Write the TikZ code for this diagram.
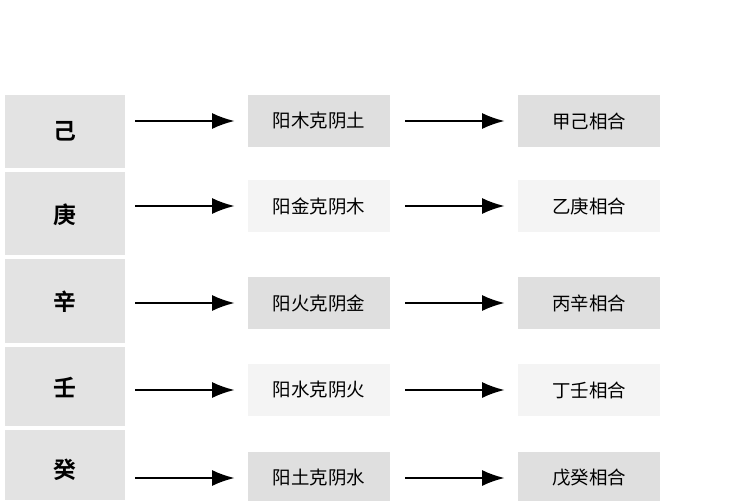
\documentclass[tikz,border=0pt]{standalone}
\usepackage{fontspec}
\newfontfamily\cjk{Noto Sans CJK SC}
\newfontfamily\cjkbold{Noto Sans CJK SC Bold}
\usetikzlibrary{arrows.meta}
\begin{document}
\begin{tikzpicture}[x=0.02cm,y=-0.02cm,
  stem/.style={font=\cjkbold\fontsize{13}{13}\selectfont},
  darkbox/.style={fill=gray!25,font=\cjk\fontsize{10.5}{11}\selectfont},
  litebox/.style={fill=gray!9,font=\cjk\fontsize{10.5}{11}\selectfont},
  link/.style={-{Latex[length=4.5mm,width=3.2mm]},line width=1.2pt}]
 \useasboundingbox (0,0) rectangle (750,500);
 % left column of stems
 \fill[gray!22] (5,95) rectangle (125,168);
 \fill[gray!22] (5,172) rectangle (125,255);
 \fill[gray!22] (5,259) rectangle (125,343);
 \fill[gray!22] (5,347) rectangle (125,426);
 \fill[gray!22] (5,430) rectangle (125,500);
 \node[stem] (s1) at (65,131) {己};
 \node[stem] (s2) at (65,215) {庚};
 \node[stem] (s3) at (65,302) {辛};
 \node[stem] (s4) at (65,388) {壬};
 \node[stem] (s5) at (65,470) {癸};
 % middle and right boxes
 \foreach \i/\y/\st/\a/\b in {1/121/darkbox/阳木克阴土/甲己相合,
     2/206/litebox/阳金克阴木/乙庚相合,
     3/303/darkbox/阳火克阴金/丙辛相合,
     4/390/litebox/阳水克阴火/丁壬相合,
     5/478/darkbox/阳土克阴水/戊癸相合}{
   \node[\st,minimum width=142*0.02cm,minimum height=52*0.02cm] (m\i) at (319,\y) {\a};
   \node[\st,minimum width=142*0.02cm,minimum height=52*0.02cm] (r\i) at (589,\y) {\b};
   \coordinate (a\i) at (135,\y);
   \draw[link] (a\i) -- ([xshift=-0.26cm]m\i.west);
   \draw[link] ([xshift=0.3cm]m\i.east) -- ([xshift=-0.26cm]r\i.west);
 }
\end{tikzpicture}
\end{document}
